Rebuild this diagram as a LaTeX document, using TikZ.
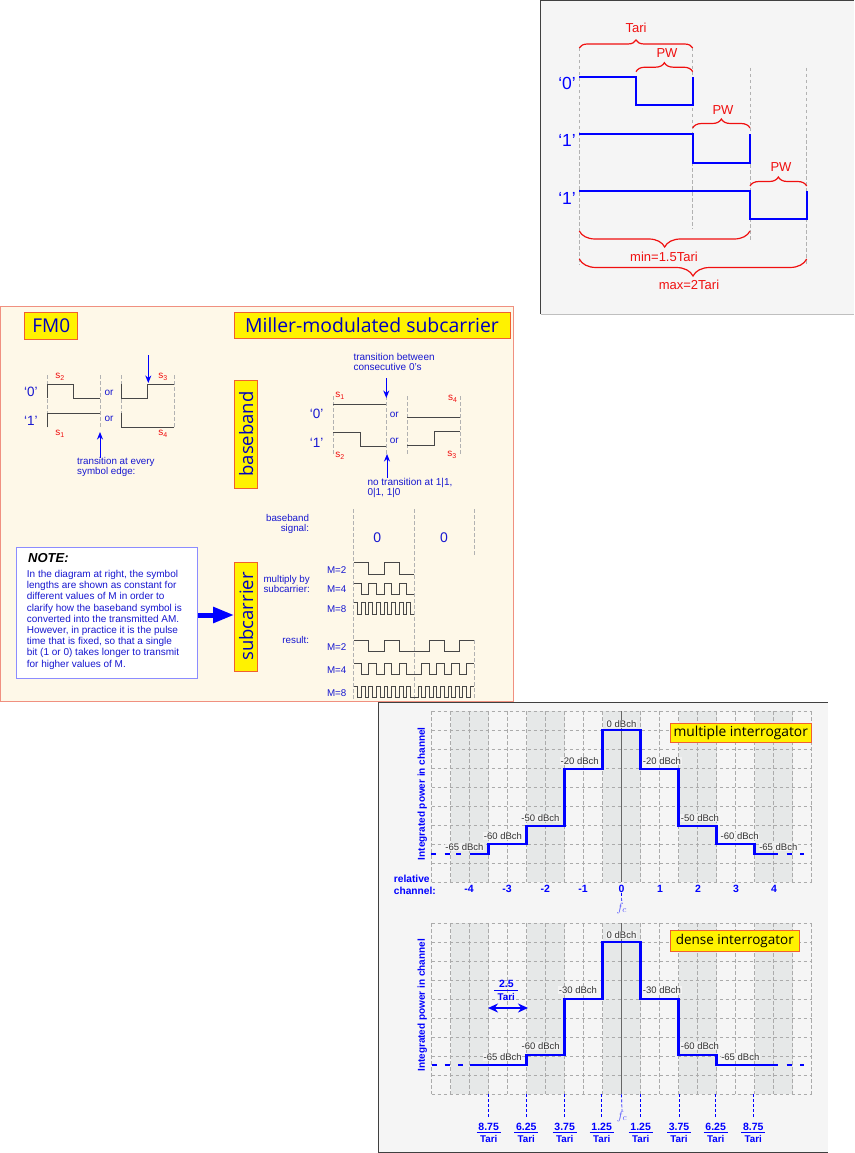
\documentclass[tikz,border=0pt]{standalone}
\usepackage{fontspec}
\setmainfont{Liberation Sans}
\setsansfont{Liberation Sans}
\newfontfamily\headfont{Open Sans}
\usetikzlibrary{arrows.meta,decorations.pathreplacing}

\definecolor{inkblue}{HTML}{1818D0}
\definecolor{linkred}{HTML}{F01010}
\definecolor{creamfill}{HTML}{FEF8E8}
\definecolor{salmonline}{HTML}{F09080}
\definecolor{paneltint}{HTML}{F5F5F5}
\definecolor{bandtint}{HTML}{E6E8E8}
\definecolor{boxline}{HTML}{F06030}

\newcommand{\fsz}[1]{\fontsize{#1}{#1}\selectfont}
% fraction over Tari with its own rule
\newcommand{\overtari}[1]{\vbox{\hbox to 24pt{\hss\fsz{10.5}#1\hss}\kern2pt\hrule height 1pt\kern2.5pt\hbox to 24pt{\hss\fsz{9.8}Tari\hss}}}
% x0, y high, y low, half period, cycles
\newcommand{\burst}[5]{
  \draw[wave] (#1,#2) \foreach \k in {2,...,#5}{-- ++(#4,0) -- ++(0,#3-#2) -- ++(#4,0) -- ++(0,#2-#3)}
    -- ++(#4,0) -- ++(0,#3-#2) -- ++(#4,0);}
% second bit of the result row, starts low and ends high
\newcommand{\burstinv}[5]{
  \draw[wave] (#1,#3) \foreach \k in {2,...,#5}{-- ++(#4,0) -- ++(0,#2-#3) -- ++(#4,0) -- ++(0,#3-#2)}
    -- ++(#4,0) -- ++(0,#2-#3) -- ++(#4,0);}
% bands, dashed grid and centre line of a spectrum plot, #1 = top edge
\newcommand{\specgrid}[1]{
  \foreach \x in {450.5,526.5,602.5,678.5,754.5}{\fill[bandtint] (\x,#1) rectangle (\x+38,#1+171);}
  \foreach \k in {0,...,20}{\draw[gridline] (431.5+19*\k,#1)--(431.5+19*\k,#1+171);}
  \foreach \k in {0,...,9}{\draw[gridline] (431.5,#1+19*\k)--(811.5,#1+19*\k);}
  \draw[black!60,line width=1.6pt] (621.5,#1)--(621.5,#1+171);}

\begin{document}
\begin{tikzpicture}[x=1pt,y=-1pt,>=Stealth,font=\fsz{9.5},
  wave/.style={draw=black!72,line width=.9pt},
  bluewave/.style={draw=blue,line width=2.2pt},
  guide/.style={draw=black!30,dash pattern=on 3.5pt off 2.5pt,line width=.8pt},
  redbrace/.style={draw=linkred,line width=1.2pt,decorate},
  redtag/.style={text=linkred,font=\fsz{13},inner sep=0pt},
  bitbig/.style={text=blue,font=\fsz{17.5},inner sep=0pt},
  bitsmall/.style={text=inkblue,font=\fsz{13.5},inner sep=0pt},
  symtag/.style={text=linkred,font=\fsz{10},inner sep=0pt},
  ortag/.style={text=inkblue,font=\fsz{10},inner sep=0pt},
  bluetag/.style={text=inkblue,inner sep=0pt,align=left},
  righttag/.style={text=inkblue,inner sep=0pt,align=right,font=\fsz{9.8}},
  pointer/.style={draw=blue,line width=1pt,-{Stealth[length=7.5pt,width=6pt]}},
  yellowbox/.style={draw=boxline,fill=yellow,line width=1pt,inner sep=0pt,text=blue!75!black},
  gridline/.style={draw=black!33,dash pattern=on 3.5pt off 2.5pt,line width=.7pt},
  stairs/.style={draw=blue,line width=2.3pt,line join=miter},
  dbtag/.style={fill=paneltint,fill opacity=.8,text opacity=1,text=black!80,font=\fsz{9.5},inner sep=.6pt},
  axistag/.style={text=blue,font=\fsz{10}\bfseries,inner sep=0pt},
  tickline/.style={draw=blue,dash pattern=on 3pt off 2pt,line width=.7pt}]
  \useasboundingbox (0,0) rectangle (854,1153);

  %% pulse width panel
  \fill[paneltint] (540.5,0) rectangle (854,314);
  \draw[black!75,line width=1pt] (540.5,314)--(540.5,.5)--(854,.5);
  \draw[black!25,line width=.8pt] (540.5,314)--(854,314);
  \draw[guide] (579.3,48)--(579.3,265);
  \draw[guide] (692.7,48)--(692.7,229);
  \draw[guide] (750,68)--(750,240);
  \draw[guide] (806.7,68)--(806.7,265);
  \draw[bluewave] (579.3,76.7)--(636,76.7)--(636,105)--(692.7,105)--(692.7,76.7);
  \draw[bluewave] (579.3,134.3)--(692.7,134.3)--(692.7,162.7)--(750,162.7)--(750,134.3);
  \draw[bluewave] (579.3,191.3)--(750,191.3)--(750,219.3)--(806.7,219.3)--(806.7,191.3);
  \node[bitbig] (bit0) at (567,83) {`0'};
  \node[bitbig] (bit1) at (567,140) {`1'};
  \node[bitbig] (bit2) at (567,198) {`1'};
  \draw[redbrace,decoration={brace,amplitude=8pt}] (579.3,48)--(692.7,48);
  \draw[redbrace,decoration={brace,amplitude=9pt}] (636,71.7)--(692.7,71.7);
  \draw[redbrace,decoration={brace,amplitude=9pt}] (692.7,128)--(750,128);
  \draw[redbrace,decoration={brace,amplitude=9pt}] (750,186)--(806.7,186);
  \draw[redbrace,decoration={brace,mirror,amplitude=16pt}] (579.3,231)--(750,231);
  \draw[redbrace,decoration={brace,mirror,amplitude=17pt}] (579.3,259)--(806.7,259);
  \node[redtag] (tari) at (636,28) {Tari};
  \node[redtag] (pw0) at (667,53) {PW};
  \node[redtag] (pw1) at (723,110) {PW};
  \node[redtag] (pw2) at (781,167) {PW};
  \node[redtag] (minw) at (664,257) {min=1.5Tari};
  \node[redtag] (maxw) at (689,285) {max=2Tari};

  %% FM0 and Miller panel
  \draw[salmonline,fill=creamfill,line width=.9pt] (.5,306.5) rectangle (513,701);
  \node[yellowbox,minimum width=53pt,minimum height=27pt,font=\headfont\fsz{19}] (fmhead) at (51.3,325.5) {FM0};
  \node[yellowbox,minimum width=276pt,minimum height=26pt,font=\headfont\fsz{19.4}] (millerhead) at (372,325) {Miller-modulated subcarrier};
  \node[yellowbox,rotate=90,minimum width=108pt,minimum height=23pt,font=\headfont\fsz{18.5}] (bandbox) at (246.2,434) {baseband};
  \node[yellowbox,rotate=90,minimum width=109pt,minimum height=23pt,font=\headfont\fsz{18.5}] (subbox) at (246.2,616.5) {subcarrier};

  % FM0 symbols
  \foreach \x in {47.7,100,121.7,174}{\draw[guide] (\x,375)--(\x,428);}
  \draw[wave] (47.7,398.3)--(47.7,384)--(73.7,384)--(73.7,398.3)--(100,398.3);
  \draw[wave] (121.7,384)--(121.7,398.3)--(147.7,398.3)--(147.7,384)--(174,384);
  \draw[wave] (47.7,427.3)--(47.7,413.3)--(100,413.3);
  \draw[wave] (121.7,413.3)--(121.7,427.3)--(174,427.3);
  \node[bitsmall] (fmbit0) at (31,392) {`0'};
  \node[bitsmall] (fmbit1) at (31,421) {`1'};
  \node[ortag] (fmor0) at (109,393) {or};
  \node[ortag] (fmor1) at (109,419) {or};
  \node[symtag] (fms2) at (60,377) {s\textsubscript{2}};
  \node[symtag] (fms3) at (163,377) {s\textsubscript{3}};
  \node[symtag] (fms1) at (60,434) {s\textsubscript{1}};
  \node[symtag] (fms4) at (163,434) {s\textsubscript{4}};
  \coordinate (fmdowntop) at (148.3,355);
  \coordinate (fmdownend) at (148.3,383);
  \coordinate (fmuptail) at (100,458);
  \coordinate (fmupend) at (100,432);
  \draw[pointer] (fmdowntop)--(fmdownend);
  \draw[pointer] (fmuptail)--(fmupend);
  \node[bluetag,anchor=north west,font=\fsz{9.8}] (fmnote) at (77,457) {transition at every\\[.5pt]symbol edge:};

  % Miller baseband symbols
  \foreach \x in {333.3,386.3,407.3,460.3}{\draw[guide] (\x,396)--(\x,455);}
  \draw[wave] (333.3,404)--(386.3,404);
  \draw[wave] (407.3,417.3)--(460.3,417.3);
  \draw[wave] (333.3,432.3)--(360,432.3)--(360,446.7)--(386.3,446.7);
  \draw[wave] (407.3,445.3)--(434,445.3)--(434,431)--(460.3,431);
  \node[bitsmall] (mibit0) at (316.7,414) {`0'};
  \node[bitsmall] (mibit1) at (316.7,443) {`1'};
  \node[ortag] (mior0) at (394.3,415) {or};
  \node[ortag] (mior1) at (394.3,441) {or};
  \node[symtag] (mis1) at (340,396) {s\textsubscript{1}};
  \node[symtag] (mis4) at (452.7,399) {s\textsubscript{4}};
  \node[symtag] (mis2) at (340,456) {s\textsubscript{2}};
  \node[symtag] (mis3) at (452,455) {s\textsubscript{3}};
  \coordinate (midowntop) at (386.3,378);
  \coordinate (midownend) at (386.3,398);
  \coordinate (miuptail) at (387,478);
  \coordinate (miupend) at (387,454);
  \draw[pointer] (midowntop)--(midownend);
  \draw[pointer] (miuptail)--(miupend);
  \node[bluetag,anchor=north west,font=\fsz{10}] (minote) at (353.3,353) {transition between\\[.5pt]consecutive 0's};
  \node[bluetag,anchor=north west,font=\fsz{10}] (minote2) at (367.3,478) {no transition at 1|1,\\[.5pt]0|1, 1|0};

  % subcarrier rows
  \foreach \x in {353.7,414.3}{\draw[guide] (\x,509)--(\x,699);}
  \draw[guide] (474,509)--(474,555);
  \draw[guide] (474,640)--(474,699);
  \node[righttag,anchor=north east] (basetag) at (309.3,514) {baseband\\[.5pt]signal:};
  \node[righttag,anchor=north east] (multag) at (310,575) {multiply by\\[.5pt]subcarrier:};
  \node[righttag,anchor=east] (restag) at (309.3,640) {result:};
  \node[text=inkblue,font=\fsz{14},inner sep=0pt] (zero0) at (377.3,538) {0};
  \node[text=inkblue,font=\fsz{14},inner sep=0pt] (zero1) at (444,538) {0};
  \foreach \y/\m/\n in {569.7/2/ma,589.3/4/mb,609/8/mc,646.7/2/ra,670/4/rb,692.7/8/rc}{
    \node[text=inkblue,font=\fsz{9.8},inner sep=0pt] (\n) at (336.7,\y) {M=\m};}
  \burst{353.7}{562.7}{574}{15.15}{2}
  \burst{353.7}{583.3}{594}{7.575}{4}
  \burst{353.7}{602.7}{614}{3.79}{8}
  \burst{353.7}{640.3}{651.3}{15.15}{2}
  \burstinv{414.3}{640.3}{651.3}{14.96}{2}
  \burst{353.7}{663.7}{674.7}{7.575}{4}
  \burstinv{414.3}{663.7}{674.7}{7.48}{4}
  \burst{353.7}{686.7}{697.3}{3.79}{8}
  \burstinv{414.3}{686.7}{697.3}{3.74}{8}

  % note
  \node[draw=blue!45,fill=white,line width=.9pt,minimum width=180.6pt,minimum height=131pt,inner sep=0pt] (notebox) at (107,612.8) {};
  \node[anchor=west,inner sep=0pt,font=\fsz{13}\bfseries\itshape] (notehead) at (28,558) {NOTE:};
  \node[anchor=north west,inner sep=0pt,align=left,text=inkblue,font=\fontsize{10}{11.2}\selectfont] (notebody) at (26.7,570)
    {In the diagram at right, the symbol\\lengths are shown as constant for\\different values of M in order to\\clarify how the baseband symbol is\\converted into the transmitted AM.\\However, in practice it is the pulse\\time that is fixed, so that a single\\bit (1 or 0) takes longer to transmit\\for higher values of M.};
  \draw[blue,line width=5pt,-{Triangle[length=21pt,width=15pt]}] (notebox.east|-0,615)--(subbox.north|-0,615);

  %% spectrum panel
  \fill[paneltint] (378.5,702.5) rectangle (827.5,1152.5);
  \draw[black!75,line width=1pt] (827.5,702.5)--(378.5,702.5)--(378.5,1152.5)--(827.5,1152.5);

  % upper plot
  \specgrid{711}
  \draw[stairs] (469.7,853.7)--(488.5,853.7)--(488.5,844.3)--(526.5,844.3)--(526.5,825.7)--(564.5,825.7)--(564.5,768.7)--(602.5,768.7)--(602.5,730)--(640.5,730)--(640.5,768.7)--(678.5,768.7)--(678.5,825.7)--(716.5,825.7)--(716.5,844.3)--(754.5,844.3)--(754.5,853.7)--(778.3,853.7);
  \foreach \a/\b in {431.3/436.3,444.7/449.7,456.3/460.7,786.7/791.7,800/804}{\draw[stairs] (\a,853.7)--(\b,853.7);}
  \foreach \x/\y/\t/\n in {621.5/724/0/ua,579.7/761/-20/ub,662/761/-20/uc,540.5/818.3/-50/ud,700/818.3/-50/ue,503/836.3/-60/uf,739.7/836.3/-60/ug,464.5/846.7/-65/uh,778.3/846.7/-65/ui}{
    \node[dbtag] (\n) at (\x,\y) {\t\ dBch};}
  \node[axistag,rotate=90] (powera) at (422.3,793.8) {Integrated power in channel};
  \node[axistag,anchor=north west,align=left,font=\fsz{10.2}\bfseries] (relchan) at (393.7,875) {relative\\[2pt]channel:};
  \foreach \x/\t/\n in {469/-4/ca,507/-3/cb,545.3/-2/cc,583/-1/cd,621.5/0/ce,660/1/cf,698/2/cg,736/3/ch,774/4/ci}{
    \node[axistag,font=\fsz{10.5}\bfseries] (\n) at (\x,889) {\t};}
  \node[text=blue!70,font=\fsz{13},inner sep=0pt] (fca) at (621.7,908) {$f_c$};
  \draw[tickline] (ce.south)--(fca.north);
  \node[yellowbox,minimum width=140.7pt,minimum height=19.4pt,font=\headfont\fsz{13.8},text=black] (multibox) at (740.7,733) {multiple interrogator};

  % lower plot
  \specgrid{923.3}
  \draw[stairs] (469.7,1064.7)--(526.5,1064.7)--(526.5,1055.3)--(564.5,1055.3)--(564.5,999)--(602.5,999)--(602.5,942.3)--(640.5,942.3)--(640.5,999)--(678.5,999)--(678.5,1055.3)--(716.5,1055.3)--(716.5,1064.7)--(778.3,1064.7);
  \foreach \a/\b in {432/437,444.7/449.7,458/463,786.7/791.7,800/804}{\draw[stairs] (\a,1064.7)--(\b,1064.7);}
  \foreach \x/\y/\t/\n in {621.5/935.3/0/la,578/989.7/-30/lb,662/989.7/-30/lc,540.7/1046.3/-60/ld,700/1046.3/-60/le,502.7/1057.3/-65/lf,740.3/1057.3/-65/lg}{
    \node[dbtag] (\n) at (\x,\y) {\t\ dBch};}
  \node[axistag,rotate=90] (powerb) at (422.3,1005.3) {Integrated power in channel};
  \node[yellowbox,minimum width=129pt,minimum height=21pt,font=\headfont\fsz{13.5},text=black] (densebox) at (734.8,940.5) {dense interrogator};
  \node[axistag] (spacing) at (506.3,990.7) {\overtari{2.5}};
  \coordinate (spanl) at (488,1008);
  \coordinate (spanr) at (528,1008);
  \draw[blue,line width=1.7pt,{Stealth[length=10pt,width=9pt]}-{Stealth[length=10pt,width=9pt]}] (spanl)--(spanr);
  \foreach \x/\t/\n in {488.7/8.75/fa,526.3/6.25/fb,564.7/3.75/fc,601.7/1.25/fd,640.7/1.25/fe,679/3.75/ff,715.7/6.25/fg,753.3/8.75/fh}{
    \coordinate (\n top) at (\x,1094.3);
    \coordinate (\n end) at (\x,1116.7);
    \node[axistag] (\n) at (\x,1132.8) {\overtari{\t}};
    \draw[tickline] (\n top)--(\n end);}
  \node[text=blue!70,font=\fsz{13},inner sep=0pt] (fcb) at (622,1116) {$f_c$};
  \coordinate (fcbtop) at (621.5,1094.3);
  \draw[tickline] (fcbtop)--(fcb.north);
\end{tikzpicture}
\end{document}
